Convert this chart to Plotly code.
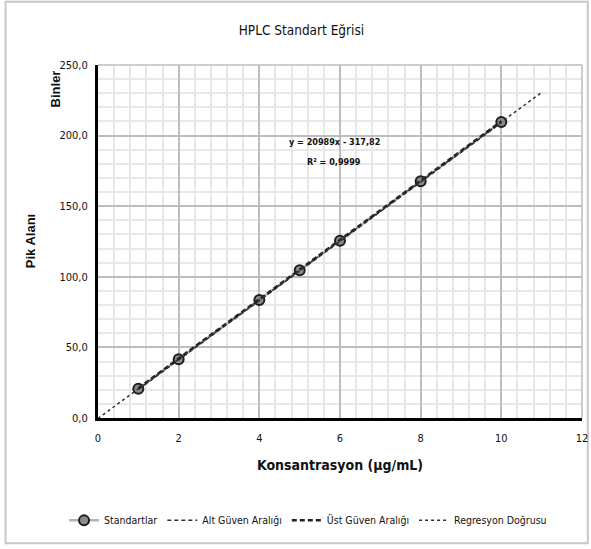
import plotly.graph_objects as go

# Data (peak areas in thousands)
conc = [1, 2, 4, 5, 6, 8, 10]
standards = [20.7, 41.6, 83.6, 104.6, 125.6, 167.6, 209.6]
alt_guven = [20.2, 41.1, 83.1, 104.1, 125.1, 167.1, 209.1]
ust_guven = [21.1, 42.1, 84.1, 105.1, 126.1, 168.1, 210.1]
reg_x = [0, 11]
reg_y = [-0.3, 230.6]
x_ticks = [0, 2, 4, 6, 8, 10, 12]
y_ticks = [0, 50, 100, 150, 200, 250]

NARROW = "Liberation Sans Narrow, DejaVu Sans Condensed, Arial Narrow, sans-serif"
WIDE = "Liberation Sans, Arial, sans-serif"
TXT = "#111111"

fig = go.Figure()
fig.add_trace(go.Scatter(
    x=conc, y=standards, name="Standartlar", mode="lines+markers",
    line=dict(color="#b4b4b4", width=2.5),
    marker=dict(symbol="circle", size=10, color="#8a8a8a",
                line=dict(color="#1e1e1e", width=2)),
))
fig.add_trace(go.Scatter(
    x=conc, y=alt_guven, name="Alt Güven Aralığı", mode="lines",
    line=dict(color="#333333", width=1.5, dash="4px,3px"),
))
fig.add_trace(go.Scatter(
    x=conc, y=ust_guven, name="Üst Güven Aralığı", mode="lines",
    line=dict(color="#222222", width=2.5, dash="5px,3px"),
))
fig.add_trace(go.Scatter(
    x=reg_x, y=reg_y, name="Regresyon Doğrusu", mode="lines",
    line=dict(color="#333333", width=1.5, dash="dot"),
))

fig.update_layout(
    width=591, height=549,
    margin=dict(l=97.5, r=9, t=65, b=131.3, autoexpand=False),
    paper_bgcolor="white", plot_bgcolor="white",
    separators=",.",
    font=dict(family=NARROW, size=12, color=TXT),
    title=dict(text="HPLC Standart Eğrisi", x=0.51, xanchor="center",
               y=1 - 30 / 549, yanchor="middle",
               font=dict(family=NARROW, size=13.5, color=TXT)),
    showlegend=True,
    legend=dict(orientation="h", x=0.434, xanchor="center", y=-0.29, yanchor="middle",
                font=dict(family=NARROW, size=10.5, color=TXT),
                itemwidth=30, tracegroupgap=0),
    xaxis=dict(range=[0, 12], tickvals=x_ticks, ticks="", automargin=False,
               showgrid=True, gridcolor="#bdbdbd", gridwidth=1.5,
               minor=dict(dtick=0.4, showgrid=True, gridcolor="#e8e8e8", gridwidth=2),
               showline=True, linecolor="black", linewidth=3,
               zeroline=False, ticklabelstandoff=8,
               tickfont=dict(family=NARROW, size=11, color=TXT),
               title=dict(text="<b>Konsantrasyon (µg/mL)</b>", standoff=16,
                          font=dict(family=NARROW, size=14, color=TXT))),
    yaxis=dict(range=[0, 250], tickvals=y_ticks, tickformat=".1f", ticks="", automargin=False,
               showgrid=True, gridcolor="#bdbdbd", gridwidth=1.5,
               minor=dict(dtick=10, showgrid=True, gridcolor="#e8e8e8", gridwidth=2),
               showline=True, linecolor="black", linewidth=3,
               zeroline=False, ticklabelstandoff=5,
               tickfont=dict(family=NARROW, size=11, color=TXT),
               title=dict(text="")),
)

# outer chart border
fig.add_shape(type="rect", xref="paper", yref="paper",
              x0=-0.191, x1=1.012, y0=-0.355, y1=1.179,
              line=dict(color="#c8c8c8", width=2), layer="below")
# top/right plot-area border lines in gridline gray
fig.add_shape(type="line", xref="paper", yref="paper", x0=0, x1=1, y0=1, y1=1,
              line=dict(color="#bdbdbd", width=1.5))
fig.add_shape(type="line", xref="paper", yref="paper", x0=1, x1=1, y0=0, y1=1,
              line=dict(color="#bdbdbd", width=1.5))

fig.add_annotation(text="<b>Pik Alanı</b>", xref="paper", yref="paper",
                   x=-0.139, y=0.5, textangle=-90, showarrow=False,
                   xanchor="center", yanchor="middle",
                   font=dict(family=WIDE, size=13, color=TXT))
fig.add_annotation(text="<b>Binler</b>", xref="paper", yref="paper",
                   x=-0.088, y=0.932, textangle=-90, showarrow=False,
                   xanchor="center", yanchor="middle",
                   font=dict(family=WIDE, size=13, color=TXT))
fig.add_annotation(text="<b>y = 20989x - 317,82</b>", x=5.86, y=195.5,
                   showarrow=False,
                   font=dict(family=NARROW, size=9, color=TXT))
fig.add_annotation(text="<b>R² = 0,9999</b>", x=5.86, y=181,
                   showarrow=False,
                   font=dict(family=NARROW, size=9, color=TXT))

fig.write_html("out.html", post_script="document.body.style.margin='0';",
               config={"displayModeBar": False})
